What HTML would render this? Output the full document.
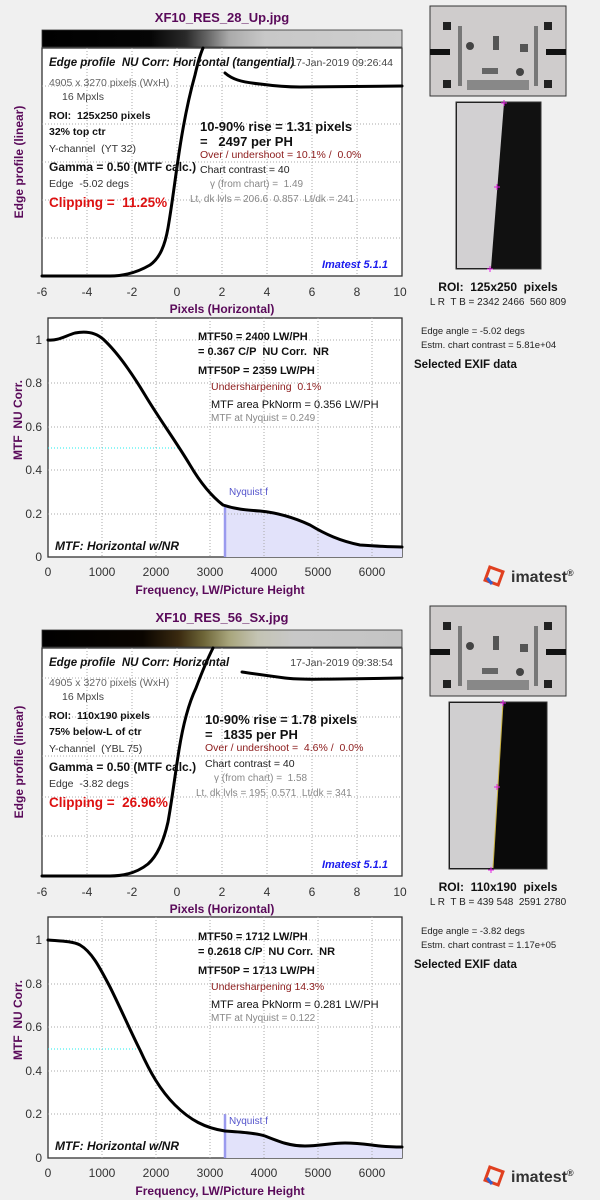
<!DOCTYPE html>
<html><head><meta charset="utf-8"><style>
html,body{margin:0;padding:0;background:#f0f0f0;width:600px;height:1200px;overflow:hidden}
svg{display:block;font-family:"Liberation Sans",sans-serif;white-space:pre}
text{white-space:pre}
.t{font-size:13px;font-weight:bold;fill:#5a0a5a}
.tk{font-size:12px;fill:#333}
.g{stroke:#aaa;stroke-width:1;stroke-dasharray:1 2;fill:none}
.bx{fill:#fff;stroke:#333;stroke-width:1.3}
.cv{fill:none;stroke:#000;stroke-width:3;stroke-linejoin:round;stroke-linecap:round}
.s{font-size:10.5px;fill:#333}
.b{font-size:11px;font-weight:bold;fill:#111}
.gr{font-size:10px;fill:#888}
.dr{font-size:10.5px;fill:#8b1a1a}
.bl{font-size:11px;font-weight:bold;font-style:italic;fill:#1a1aee}
.it{font-size:12px;font-weight:bold;font-style:italic;fill:#111}
</style></head><body>
<svg width="600" height="1200" viewBox="0 0 600 1200" xml:space="preserve">
<defs>
<linearGradient id="gb1" x1="0" x2="1">
<stop offset="0" stop-color="#000"/><stop offset="0.3" stop-color="#050505"/><stop offset="0.4" stop-color="#2a2a2a"/><stop offset="0.46" stop-color="#666"/><stop offset="0.52" stop-color="#aaa"/><stop offset="0.62" stop-color="#c8c8c8"/><stop offset="1" stop-color="#cfcfcf"/></linearGradient>
<linearGradient id="gb2" x1="0" x2="1">
<stop offset="0" stop-color="#000"/><stop offset="0.28" stop-color="#0a0500"/><stop offset="0.38" stop-color="#3a2a10"/><stop offset="0.45" stop-color="#6e6638"/><stop offset="0.52" stop-color="#a8a57c"/><stop offset="0.6" stop-color="#c4c4b4"/><stop offset="0.7" stop-color="#c8c8c8"/><stop offset="1" stop-color="#c4c4c4"/></linearGradient>
<g id="chart">
<rect x="0" y="0" width="136" height="90" fill="#cfcccc" stroke="#333"/>
<rect x="13" y="16" width="8" height="8" fill="#222"/><rect x="13" y="74" width="8" height="8" fill="#222"/>
<rect x="114" y="16" width="8" height="8" fill="#222"/><rect x="114" y="74" width="8" height="8" fill="#222"/>
<rect x="0" y="43" width="20" height="6" fill="#111"/><rect x="116" y="43" width="20" height="6" fill="#111"/>
<rect x="28" y="20" width="4" height="60" fill="#777"/><rect x="104" y="20" width="4" height="60" fill="#777"/>
<rect x="37" y="74" width="62" height="10" fill="#888"/><rect x="52" y="62" width="16" height="6" fill="#666"/>
<rect x="63" y="30" width="6" height="14" fill="#555"/><rect x="90" y="38" width="8" height="8" fill="#555"/>
<circle cx="40" cy="40" r="4" fill="#444"/><circle cx="90" cy="66" r="4" fill="#444"/>
</g>
</defs>

<text x="222" y="22" text-anchor="middle" class="t">XF10_RES_28_Up.jpg</text>
<rect x="42" y="30" width="360" height="17" fill="url(#gb1)" stroke="#333" stroke-width="0.8"/>
<rect x="42" y="48" width="360" height="228" class="bx"/>
<g class="g">
<path d="M87 48V276M132 48V276M177 48V276M222 48V276M267 48V276M312 48V276M357 48V276"/>
<path d="M42 86H402M42 124H402M42 162H402M42 200H402M42 238H402"/>
</g>
<path class="cv" d="M42 276 L110 276 C125 276 138 272 150 265 C160 258 165 245 168 228 C172 205 175 180 178 160 C182 132 188 100 195 75 C198 62 200 55 203 48"/>
<path class="cv" d="M225 73 C232 79 240 82 260 84 C275 86 285 87 300 87 L402 86"/>
<text x="49" y="66" class="it" style="font-size:11.5px">Edge profile  NU Corr: Horizontal (tangential)</text>
<text x="393" y="66" text-anchor="end" class="s" style="fill:#444">17-Jan-2019 09:26:44</text>
<text x="49" y="86" class="s" style="fill:#666">4905 x 3270 pixels (WxH)</text>
<text x="62" y="100" class="s" style="fill:#444">16 Mpxls</text>
<text x="49" y="119" class="b" style="font-size:10.5px">ROI:  125x250 pixels</text>
<text x="49" y="135" class="b" style="font-size:10.5px">32% top ctr</text>
<text x="49" y="152" class="s">Y-channel  (YT 32)</text>
<text x="49" y="171" class="b" style="font-size:12px">Gamma = 0.50 (MTF calc.)</text>
<text x="49" y="187" class="s">Edge  -5.02 degs</text>
<text x="49" y="207" style="font-size:13.5px;font-weight:bold;fill:#dd1111">Clipping =  11.25%</text>
<text x="200" y="131" class="b" style="font-size:13px">10-90% rise = 1.31 pixels</text>
<text x="200" y="146" class="b" style="font-size:13px">=   2497 per PH</text>
<text x="200" y="158" class="dr">Over / undershoot = 10.1% /  0.0%</text>
<text x="200" y="173" class="s" style="fill:#222">Chart contrast = 40</text>
<text x="210" y="187" class="gr">γ (from chart) =  1.49</text>
<text x="190" y="202" class="gr">Lt, dk lvls = 206.6  0.857  Lt/dk = 241</text>
<text x="388" y="268" text-anchor="end" class="bl">Imatest 5.1.1</text>
<g class="tk" text-anchor="middle">
<text x="42" y="296">-6</text><text x="87" y="296">-4</text><text x="132" y="296">-2</text><text x="177" y="296">0</text><text x="222" y="296">2</text><text x="267" y="296">4</text><text x="312" y="296">6</text><text x="357" y="296">8</text><text x="400" y="296">10</text></g>
<text x="222" y="313" text-anchor="middle" class="t" style="font-size:12px">Pixels (Horizontal)</text>
<text transform="translate(23,162) rotate(-90)" text-anchor="middle" class="t" style="font-size:12px">Edge profile (linear)</text>

<rect x="48" y="318" width="354" height="239" class="bx"/>
<path d="M225 505 C235 509 245 510 260 511 C280 513 295 518 310 525 C325 534 340 541 360 545 C375 546 390 547 402 547 L402 557 L225 557Z" fill="#e2e2fa"/>
<line x1="225" y1="505" x2="225" y2="557" stroke="#9a9aee" stroke-width="2.5"/>
<g class="g">
<path d="M102 318V557M156 318V557M210 318V557M264 318V557M318 318V557M372 318V557"/>
<path d="M48 340H402M48 383H402M48 427H402M48 470H402M48 514H402"/>
</g>
<line x1="48" y1="448" x2="178" y2="448" stroke="#2ee" stroke-dasharray="1 2"/>
<path class="cv" d="M48 340 C58 341 65 336 75 333 C85 331 95 332 103 339 C115 350 130 370 145 395 C160 420 175 440 190 465 C200 482 210 495 223 505 C235 509 245 510 260 511 C280 513 295 518 310 525 C325 534 340 541 360 545 C375 546 390 547 402 547"/>
<text x="198" y="340" class="b">MTF50 = 2400 LW/PH</text>
<text x="198" y="355" class="b">= 0.367 C/P  NU Corr.  NR</text>
<text x="198" y="374" class="b">MTF50P = 2359 LW/PH</text>
<text x="211" y="390" class="dr">Undersharpening  0.1%</text>
<text x="211" y="408" style="font-size:11px;fill:#111">MTF area PkNorm = 0.356 LW/PH</text>
<text x="211" y="421" class="gr">MTF at Nyquist = 0.249</text>
<text x="229" y="495" style="font-size:10px;fill:#5555cc">Nyquist f</text>
<text x="55" y="550" class="it">MTF: Horizontal w/NR</text>
<g class="tk" text-anchor="end">
<text x="42" y="344">1</text><text x="42" y="387">0.8</text><text x="42" y="431">0.6</text><text x="42" y="474">0.4</text><text x="42" y="518">0.2</text><text x="42" y="561">0</text></g>
<g class="tk" text-anchor="middle">
<text x="48" y="576">0</text><text x="102" y="576">1000</text><text x="156" y="576">2000</text><text x="210" y="576">3000</text><text x="264" y="576">4000</text><text x="318" y="576">5000</text><text x="372" y="576">6000</text></g>
<text x="220" y="594" text-anchor="middle" class="t" style="font-size:12px">Frequency, LW/Picture Height</text>
<text transform="translate(22,420) rotate(-90)" text-anchor="middle" class="t" style="font-size:12px">MTF  NU Corr.</text>

<use href="#chart" x="430" y="6"/>
<rect x="456" y="102" width="85" height="167" fill="#111" stroke="#333"/>
<polygon points="457,103 504,103 491,268 457,268" fill="#d2d0d2"/>
<g stroke="#e020e0" stroke-width="1"><path d="M501 103h6M504 100v6M494 187h6M497 184v6M487 269h6M490 266v6"/></g>
<text x="498" y="291" text-anchor="middle" style="font-size:12px;font-weight:bold;fill:#111">ROI:  125x250  pixels</text>
<text x="498" y="305" text-anchor="middle" style="font-size:10px;fill:#222">L R  T B = 2342 2466  560 809</text>
<text x="421" y="334" style="font-size:9.5px;fill:#222">Edge angle = -5.02 degs</text>
<text x="421" y="348" style="font-size:9.5px;fill:#222">Estm. chart contrast = 5.81e+04</text>
<text x="414" y="368" style="font-size:11.5px;font-weight:bold;fill:#111">Selected EXIF data</text>

<g transform="translate(494,576)">
<rect x="-7" y="-7" width="14" height="14" transform="rotate(20)" fill="none" stroke="#e04020" stroke-width="3"/>
<path d="M-7 2 L-2 8" stroke="#3060d0" stroke-width="3"/></g>
<text x="511" y="582" style="font-size:16px;font-weight:bold;fill:#333">imatest<tspan font-size="9" dy="-6">®</tspan></text>

<text x="222" y="622" text-anchor="middle" class="t">XF10_RES_56_Sx.jpg</text>
<rect x="42" y="630" width="360" height="17" fill="url(#gb2)" stroke="#333" stroke-width="0.8"/>
<rect x="42" y="648" width="360" height="228" class="bx"/>
<g class="g">
<path d="M87 648V876M132 648V876M177 648V876M222 648V876M267 648V876M312 648V876M357 648V876"/>
<path d="M42 678H402M42 717H402M42 756H402M42 797H402M42 836H402"/>
</g>
<path class="cv" d="M42 876 L110 876 C125 876 138 872 148 864 C158 855 164 840 168 822 C172 800 175 775 179 750 C183 725 188 705 196 688 C202 672 208 658 213 648"/>
<path class="cv" d="M242 672 C255 674 270 676 285 678 C300 680 320 679 340 679 L402 678"/>
<text x="49" y="666" class="it" style="font-size:11.5px">Edge profile  NU Corr: Horizontal</text>
<text x="393" y="666" text-anchor="end" class="s" style="fill:#444">17-Jan-2019 09:38:54</text>
<text x="49" y="686" class="s" style="fill:#666">4905 x 3270 pixels (WxH)</text>
<text x="62" y="700" class="s" style="fill:#444">16 Mpxls</text>
<text x="49" y="719" class="b" style="font-size:10.5px">ROI:  110x190 pixels</text>
<text x="49" y="735" class="b" style="font-size:10.5px">75% below-L of ctr</text>
<text x="49" y="752" class="s">Y-channel  (YBL 75)</text>
<text x="49" y="771" class="b" style="font-size:12px">Gamma = 0.50 (MTF calc.)</text>
<text x="49" y="787" class="s">Edge  -3.82 degs</text>
<text x="49" y="807" style="font-size:13.5px;font-weight:bold;fill:#dd1111">Clipping =  26.96%</text>
<text x="205" y="724" class="b" style="font-size:13px">10-90% rise = 1.78 pixels</text>
<text x="205" y="739" class="b" style="font-size:13px">=   1835 per PH</text>
<text x="205" y="751" class="dr">Over / undershoot =  4.6% /  0.0%</text>
<text x="205" y="767" class="s" style="fill:#222">Chart contrast = 40</text>
<text x="214" y="781" class="gr">γ (from chart) =  1.58</text>
<text x="196" y="796" class="gr">Lt, dk lvls = 195  0.571  Lt/dk = 341</text>
<text x="388" y="868" text-anchor="end" class="bl">Imatest 5.1.1</text>
<g class="tk" text-anchor="middle">
<text x="42" y="896">-6</text><text x="87" y="896">-4</text><text x="132" y="896">-2</text><text x="177" y="896">0</text><text x="222" y="896">2</text><text x="267" y="896">4</text><text x="312" y="896">6</text><text x="357" y="896">8</text><text x="400" y="896">10</text></g>
<text x="222" y="913" text-anchor="middle" class="t" style="font-size:12px">Pixels (Horizontal)</text>
<text transform="translate(23,762) rotate(-90)" text-anchor="middle" class="t" style="font-size:12px">Edge profile (linear)</text>

<rect x="48" y="917" width="354" height="241" class="bx"/>
<path d="M225 1131 C240 1132 255 1133 265 1136 C280 1142 290 1146 305 1146 C320 1146 330 1143 345 1143 C360 1143 370 1145 380 1146 C390 1147 396 1147 402 1147 L402 1158 L225 1158Z" fill="#e2e2fa"/>
<line x1="225" y1="1114" x2="225" y2="1158" stroke="#9a9aee" stroke-width="2.5"/>
<g class="g">
<path d="M102 917V1158M156 917V1158M210 917V1158M264 917V1158M318 917V1158M372 917V1158"/>
<path d="M48 940H402M48 984H402M48 1027H402M48 1071H402M48 1114H402"/>
</g>
<line x1="48" y1="1049" x2="140" y2="1049" stroke="#2ee" stroke-dasharray="1 2"/>
<path class="cv" d="M48 940 C60 941 72 941 80 945 C92 952 100 968 110 987 C120 1007 130 1030 140 1050 C150 1072 160 1090 175 1105 C190 1120 205 1128 225 1131 C240 1132 255 1133 265 1136 C280 1142 290 1146 305 1146 C320 1146 330 1143 345 1143 C360 1143 370 1145 380 1146 C390 1147 396 1147 402 1147"/>
<text x="198" y="940" class="b">MTF50 = 1712 LW/PH</text>
<text x="198" y="955" class="b">= 0.2618 C/P  NU Corr.  NR</text>
<text x="198" y="974" class="b">MTF50P = 1713 LW/PH</text>
<text x="211" y="990" class="dr">Undersharpening 14.3%</text>
<text x="211" y="1008" style="font-size:11px;fill:#111">MTF area PkNorm = 0.281 LW/PH</text>
<text x="211" y="1021" class="gr">MTF at Nyquist = 0.122</text>
<text x="229" y="1124" style="font-size:10px;fill:#5555cc">Nyquist f</text>
<text x="55" y="1150" class="it">MTF: Horizontal w/NR</text>
<g class="tk" text-anchor="end">
<text x="42" y="944">1</text><text x="42" y="988">0.8</text><text x="42" y="1031">0.6</text><text x="42" y="1075">0.4</text><text x="42" y="1118">0.2</text><text x="42" y="1162">0</text></g>
<g class="tk" text-anchor="middle">
<text x="48" y="1177">0</text><text x="102" y="1177">1000</text><text x="156" y="1177">2000</text><text x="210" y="1177">3000</text><text x="264" y="1177">4000</text><text x="318" y="1177">5000</text><text x="372" y="1177">6000</text></g>
<text x="220" y="1195" text-anchor="middle" class="t" style="font-size:12px">Frequency, LW/Picture Height</text>
<text transform="translate(22,1020) rotate(-90)" text-anchor="middle" class="t" style="font-size:12px">MTF  NU Corr.</text>

<use href="#chart" x="430" y="606"/>
<rect x="474" y="722" width="4" height="6" fill="#e00"/>
<rect x="449" y="702" width="98" height="167" fill="#0a0a0a" stroke="#333"/>
<polygon points="450,703 503,703 493,868 450,868" fill="#d0cfd0"/>
<line x1="503" y1="703" x2="493" y2="868" stroke="#c8b040" stroke-width="1"/>
<g stroke="#e020e0" stroke-width="1"><path d="M500 703h6M503 700v6M494 787h6M497 784v6M488 870h6M491 867v6"/></g>
<text x="498" y="891" text-anchor="middle" style="font-size:12px;font-weight:bold;fill:#111">ROI:  110x190  pixels</text>
<text x="498" y="905" text-anchor="middle" style="font-size:10px;fill:#222">L R  T B = 439 548  2591 2780</text>
<text x="421" y="934" style="font-size:9.5px;fill:#222">Edge angle = -3.82 degs</text>
<text x="421" y="948" style="font-size:9.5px;fill:#222">Estm. chart contrast = 1.17e+05</text>
<text x="414" y="968" style="font-size:11.5px;font-weight:bold;fill:#111">Selected EXIF data</text>

<g transform="translate(494,1176)">
<rect x="-7" y="-7" width="14" height="14" transform="rotate(20)" fill="none" stroke="#e04020" stroke-width="3"/>
<path d="M-7 2 L-2 8" stroke="#3060d0" stroke-width="3"/></g>
<text x="511" y="1182" style="font-size:16px;font-weight:bold;fill:#333">imatest<tspan font-size="9" dy="-6">®</tspan></text>
</svg>
</body></html>
